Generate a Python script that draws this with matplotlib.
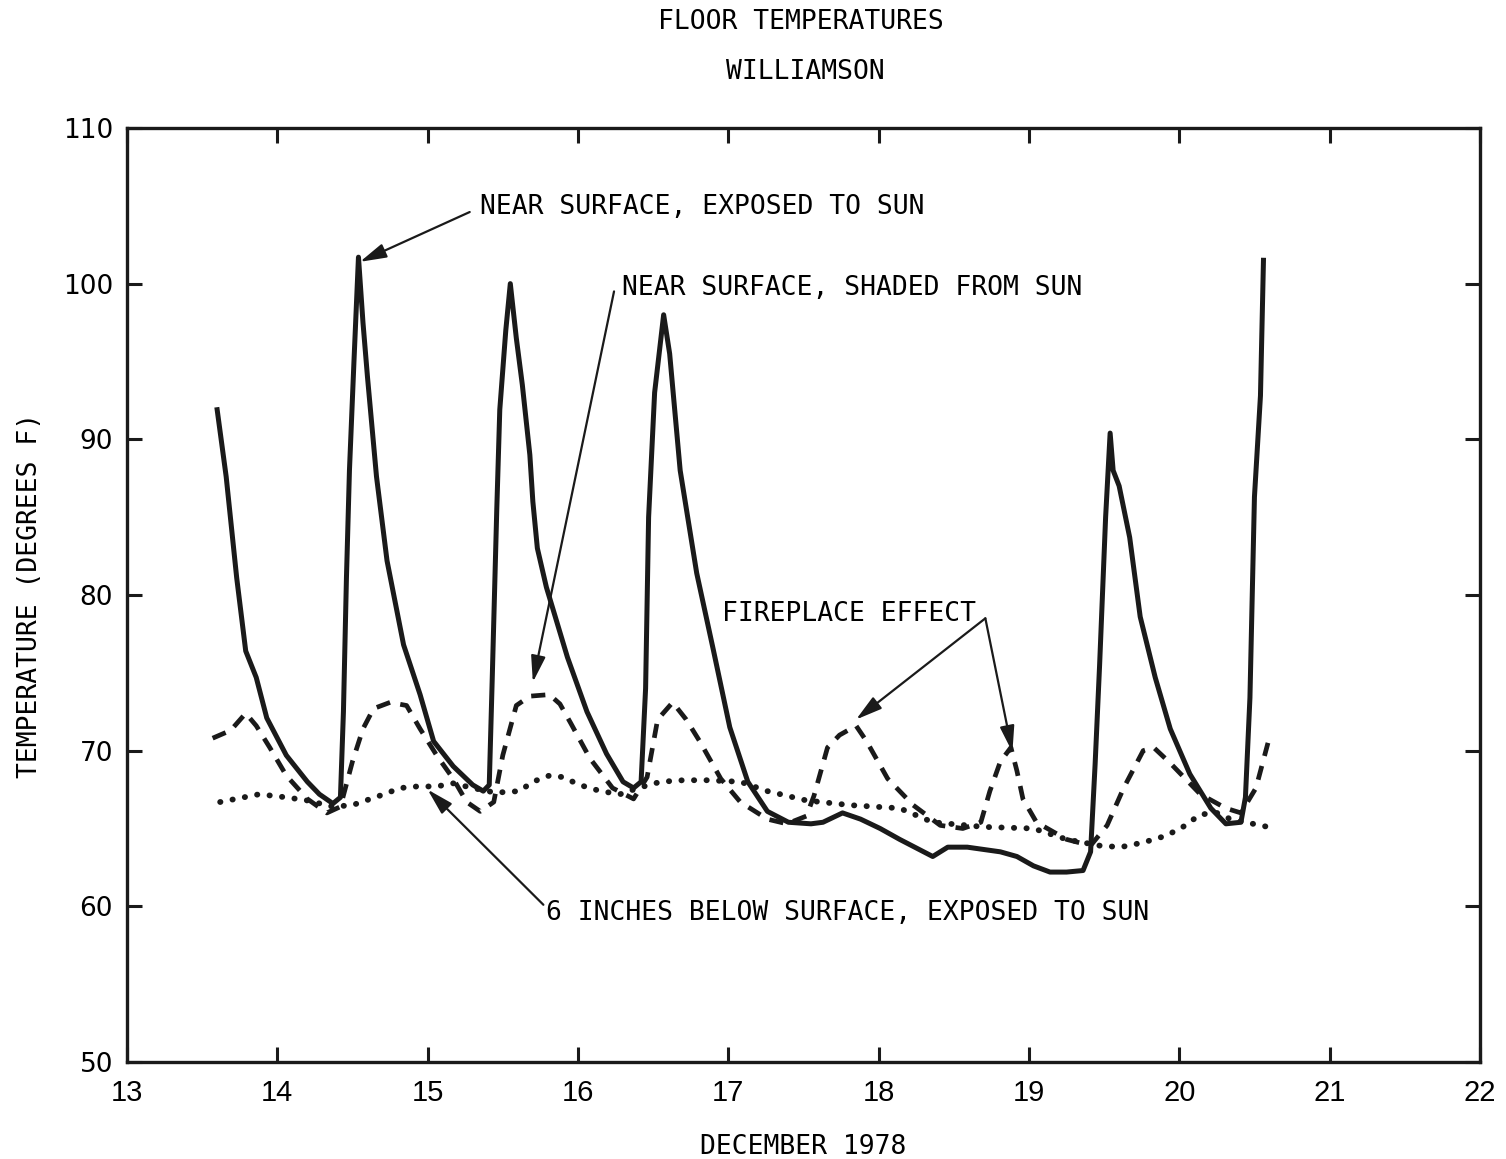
import matplotlib
matplotlib.use("Agg")
import matplotlib.pyplot as plt

# readings, December 1978 (day of month, degrees F)
sun_day = [13.60, 13.66, 13.73, 13.79, 13.86, 13.93, 14.06, 14.20, 14.28, 14.37,
           14.42, 14.44, 14.46, 14.48, 14.51, 14.54, 14.57, 14.60, 14.66, 14.73,
           14.84, 14.95, 15.04, 15.17, 15.30, 15.37, 15.41, 15.43, 15.46, 15.48,
           15.52, 15.55, 15.59, 15.63, 15.68, 15.70, 15.73, 15.79, 15.93, 16.06,
           16.19, 16.30, 16.37, 16.42, 16.45, 16.47, 16.51, 16.57, 16.61, 16.68,
           16.79, 16.90, 17.01, 17.13, 17.26, 17.40, 17.55, 17.63, 17.76, 17.88,
           18.01, 18.14, 18.36, 18.46, 18.59, 18.81, 18.92, 19.03, 19.14, 19.25,
           19.36, 19.41, 19.44, 19.47, 19.51, 19.54, 19.56, 19.60, 19.67, 19.74,
           19.84, 19.94, 20.07, 20.21, 20.31, 20.41, 20.44, 20.47, 20.50, 20.54,
           20.56]
sun_temp = [91.9, 87.6, 81.1, 76.4, 74.7, 72.1, 69.7, 68.0, 67.2, 66.6,
            67.0, 72.5, 81.1, 88.0, 95.0, 101.7, 97.5, 94.0, 87.6, 82.2,
            76.8, 73.6, 70.6, 69.0, 67.8, 67.4, 67.8, 74.7, 85.5, 91.9,
            97.0, 100.0, 96.5, 93.5, 89.0, 86.0, 83.0, 80.5, 76.0, 72.5,
            69.8, 68.0, 67.6, 68.0, 74.0, 85.0, 93.0, 98.0, 95.5, 88.0,
            81.4, 76.5, 71.5, 68.0, 66.1, 65.4, 65.3, 65.4, 66.0, 65.6,
            65.0, 64.3, 63.2, 63.8, 63.8, 63.5, 63.2, 62.6, 62.2, 62.2,
            62.3, 63.5, 69.1, 75.5, 85.0, 90.4, 88.0, 87.0, 83.7, 78.6,
            74.7, 71.4, 68.5, 66.3, 65.3, 65.4, 67.0, 73.4, 86.3, 92.8,
            101.5]

shade_day = [13.57, 13.69, 13.79, 13.86, 13.95, 14.06, 14.20, 14.33, 14.42, 14.50,
             14.57, 14.64, 14.75, 14.86, 14.95, 15.06, 15.17, 15.26, 15.35, 15.44,
             15.50, 15.59, 15.68, 15.81, 15.88, 15.95, 16.08, 16.23, 16.37, 16.46,
             16.53, 16.63, 16.72, 16.81, 16.95, 17.08, 17.26, 17.39, 17.52, 17.57,
             17.66, 17.74, 17.85, 17.92, 18.06, 18.23, 18.41, 18.56, 18.68, 18.74,
             18.81, 18.88, 18.92, 18.96, 19.05, 19.25, 19.41, 19.52, 19.63, 19.76,
             19.83, 19.94, 20.14, 20.31, 20.41, 20.51, 20.59]
shade_temp = [70.8, 71.3, 72.4, 71.6, 70.2, 68.4, 66.9, 66.0, 66.4, 69.3,
              71.4, 72.7, 73.1, 72.9, 71.4, 69.7, 68.2, 66.7, 66.1, 66.7,
              69.7, 72.9, 73.5, 73.6, 73.0, 71.8, 69.5, 67.6, 66.9, 68.3,
              72.0, 73.1, 72.0, 70.6, 68.2, 66.7, 65.6, 65.3, 65.8, 67.1,
              70.2, 71.0, 71.6, 70.6, 68.2, 66.5, 65.2, 65.0, 65.4, 67.4,
              69.3, 70.2, 68.7, 66.9, 65.4, 64.3, 63.9, 65.2, 67.6, 70.0,
              70.2, 69.2, 67.2, 66.3, 66.0, 67.6, 70.5]

deep_day = [13.62, 13.88, 14.06, 14.20, 14.37, 14.50, 14.68, 14.82, 14.93, 15.06,
            15.17, 15.30, 15.45, 15.61, 15.70, 15.81, 15.90, 16.01, 16.15, 16.28,
            16.40, 16.55, 16.70, 16.86, 17.08, 17.26, 17.52, 17.81, 18.14, 18.36,
            18.70, 19.03, 19.25, 19.47, 19.61, 19.76, 19.90, 20.01, 20.14, 20.25,
            20.34, 20.59]
deep_temp = [66.7, 67.2, 67.0, 66.8, 66.4, 66.5, 67.1, 67.6, 67.7, 67.7,
             67.9, 67.6, 67.3, 67.4, 68.0, 68.4, 68.3, 67.8, 67.4, 67.2,
             67.6, 68.0, 68.1, 68.1, 68.0, 67.4, 66.8, 66.5, 66.3, 65.4,
             65.1, 65.0, 64.3, 63.9, 63.8, 64.1, 64.5, 65.0, 65.9, 66.0,
             65.6, 65.1]

x_ticks = list(range(13, 23))
y_ticks = list(range(50, 111, 10))

mono = "DejaVu Sans Mono"
ink = "#1a1a1a"

fig = plt.figure(figsize=(15.06, 11.59), dpi=100)
ax = fig.add_axes([0.0843, 0.0837, 0.8984, 0.8059])

ax.plot(sun_day, sun_temp, color=ink, lw=3.6, solid_joinstyle="round")
ax.plot(shade_day, shade_temp, color=ink, lw=3.4, dashes=(3, 2.2))
ax.plot(deep_day, deep_temp, color=ink, lw=4.2, dashes=(0.05, 2.1),
        dash_capstyle="round")

ax.set_xlim(13, 22)
ax.set_ylim(50, 110)
ax.set_xticks(x_ticks)
ax.set_yticks(y_ticks)
ax.tick_params(direction="in", length=11, width=2.2, top=True, right=True,
               color=ink)
ax.tick_params(axis="x", labelsize=21, pad=12)
ax.tick_params(axis="y", labelsize=19, pad=10)
for lab in ax.get_xticklabels():
    lab.set_family("Liberation Sans")
for s in ax.spines.values():
    s.set_linewidth(2.4)
    s.set_color(ink)

ax.set_xlabel("DECEMBER 1978", fontsize=19, family=mono, labelpad=20)
ax.set_ylabel("TEMPERATURE (DEGREES F)", fontsize=19, family=mono, labelpad=14)

fig.text(0.532, 0.981, "FLOOR TEMPERATURES", ha="center", va="center",
         fontsize=19, family=mono)
fig.text(0.535, 0.938, "WILLIAMSON", ha="center", va="center",
         fontsize=19, family=mono)

arrow = dict(arrowstyle="-|>,head_length=0.8,head_width=0.22", color=ink,
             lw=1.6, mutation_scale=20, shrinkA=0, shrinkB=0)

ax.text(15.35, 104.9, "NEAR SURFACE, EXPOSED TO SUN", fontsize=19,
        family=mono, va="center")
ax.annotate("", xy=(14.55, 101.4), xytext=(15.28, 104.6), arrowprops=arrow)

ax.text(16.29, 99.7, "NEAR SURFACE, SHADED FROM SUN", fontsize=19,
        family=mono, va="center")
ax.annotate("", xy=(15.70, 74.4), xytext=(16.24, 99.5), arrowprops=arrow)

ax.text(16.96, 78.8, "FIREPLACE EFFECT", fontsize=19, family=mono, va="center")
ax.annotate("", xy=(17.85, 72.0), xytext=(18.71, 78.5), arrowprops=arrow)
ax.annotate("", xy=(18.89, 69.9), xytext=(18.71, 78.5), arrowprops=arrow)

ax.text(15.79, 59.6, "6 INCHES BELOW SURFACE, EXPOSED TO SUN", fontsize=19,
        family=mono, va="center")
ax.annotate("", xy=(15.00, 67.5), xytext=(15.77, 60.1), arrowprops=arrow)

fig.savefig("out.png", dpi=100, facecolor="white")
